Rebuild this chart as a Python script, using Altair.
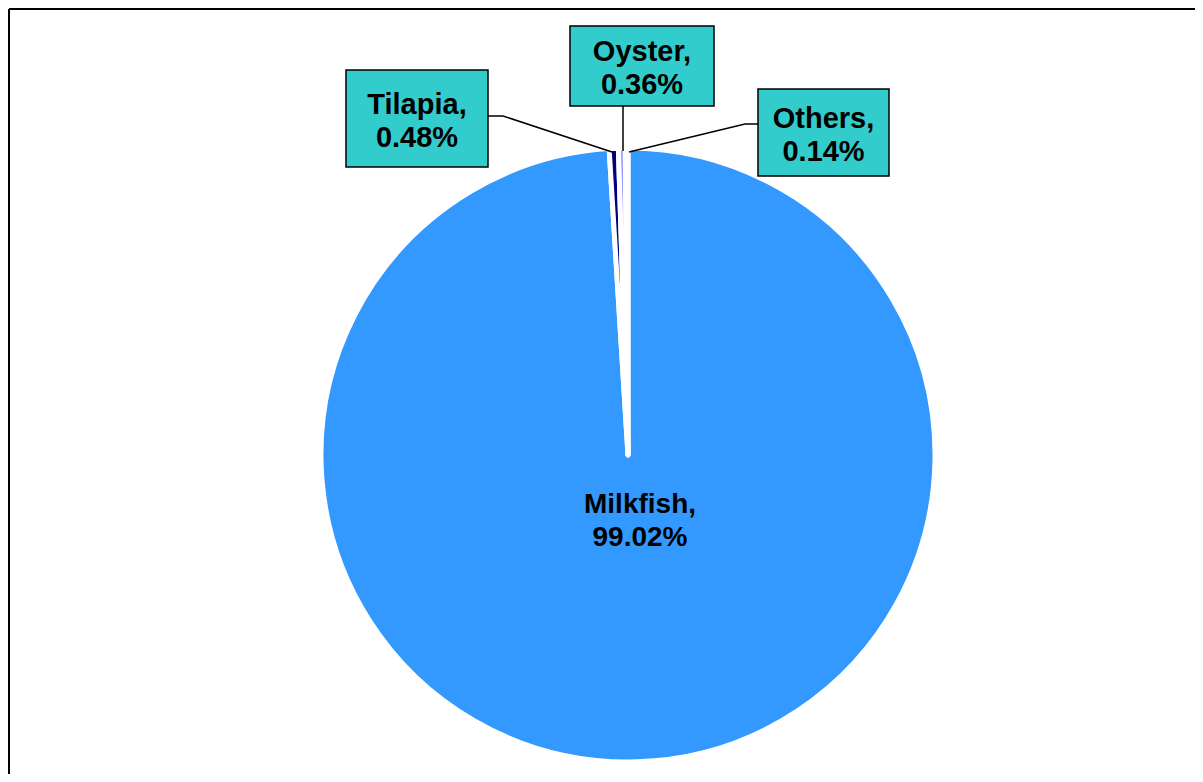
import altair as alt
import pandas as pd

# ---- data ----
species = ["Milkfish", "Tilapia", "Oyster", "Others"]
shares = [99.02, 0.48, 0.36, 0.14]
slice_colors = ["#3399ff", "#000080", "#9999ff", "#ffffff"]

# ---- layout (page pixel coordinates) ----
W, H = 1187, 766
OX, OY = 8, 8
pie_center = (628, 455)
pie_radius = 307

boxes = {  # x1, x2, y1, y2, text x, first baseline
    "Tilapia": (346, 488, 70, 167, 417, 114),
    "Oyster": (570, 714, 26, 106, 642, 61),
    "Others": (758, 889, 89, 176, 823.5, 128),
}
leaders = {
    "Tilapia": [(488, 116), (503, 116), (612, 152)],
    "Oyster": [(623, 106), (623, 151)],
    "Others": [(758, 124), (745, 124), (629, 152)],
}
milk_label = (640, 513)

xs = alt.Scale(domain=[OX, OX + W], nice=False, zero=False)
ys = alt.Scale(domain=[OY + H, OY], nice=False, zero=False)


def fmt(name, v):
    return f"{name},\n{v:.2f}%"


pie_df = pd.DataFrame({
    "species": species,
    "share": shares,
    "idx": list(range(len(species))),
    "cx": [pie_center[0]] * len(species),
    "cy": [pie_center[1]] * len(species),
})

pie = alt.Chart(pie_df).mark_arc(
    radius=pie_radius, stroke="white", strokeWidth=5, strokeJoin="round"
).encode(
    theta=alt.Theta("share:Q", stack=True),
    color=alt.Color("species:N", scale=alt.Scale(domain=species, range=slice_colors), legend=None),
    order=alt.Order("idx:Q"),
    x=alt.X("cx:Q", scale=xs, axis=None),
    y=alt.Y("cy:Q", scale=ys, axis=None),
)

share_of = dict(zip(species, shares))
box_rows = []
for name, (x1, x2, y1, y2, tx, ty) in boxes.items():
    box_rows.append({"name": name, "x1": x1, "x2": x2, "y1": y1, "y2": y2,
                     "tx": tx, "ty": ty, "label": fmt(name, share_of[name])})
box_df = pd.DataFrame(box_rows)

rects = alt.Chart(box_df).mark_rect(fill="#33cccc", stroke="black", strokeWidth=1.5).encode(
    x=alt.X("x1:Q", scale=xs, axis=None), x2="x2:Q",
    y=alt.Y("y1:Q", scale=ys, axis=None), y2="y2:Q",
)

text_style = dict(font="Liberation Sans", fontWeight="bold", fontSize=29, lineBreak="\n",
                  lineHeight=33, align="center", baseline="alphabetic", color="black")

box_text = alt.Chart(box_df).mark_text(**text_style).encode(
    x=alt.X("tx:Q", scale=xs, axis=None),
    y=alt.Y("ty:Q", scale=ys, axis=None),
    text="label:N",
)

milk_df = pd.DataFrame({"tx": [milk_label[0]], "ty": [milk_label[1]],
                        "label": [fmt(species[0], shares[0])]})
milk_text = alt.Chart(milk_df).mark_text(**{**text_style, "fontSize": 28}).encode(
    x=alt.X("tx:Q", scale=xs, axis=None),
    y=alt.Y("ty:Q", scale=ys, axis=None),
    text="label:N",
)

lead_rows = []
for name, pts in leaders.items():
    for i, (px, py) in enumerate(pts):
        lead_rows.append({"name": name, "seq": i, "px": px, "py": py})
lead_df = pd.DataFrame(lead_rows)
lines = alt.Chart(lead_df).mark_line(color="black", strokeWidth=1.5).encode(
    x=alt.X("px:Q", scale=xs, axis=None),
    y=alt.Y("py:Q", scale=ys, axis=None),
    detail="name:N",
    order="seq:Q",
)

frame_df = pd.DataFrame({"fx": [9], "fy": [9], "fx2": [OX + W + 20], "fy2": [OY + H + 20]})
frame_left = alt.Chart(frame_df).mark_rule(color="black", strokeWidth=2).encode(
    x=alt.X("fx:Q", scale=xs, axis=None),
    y=alt.Y("fy:Q", scale=ys, axis=None), y2="fy2:Q",
)
frame_top = alt.Chart(frame_df).mark_rule(color="black", strokeWidth=2).encode(
    x=alt.X("fx:Q", scale=xs, axis=None), x2="fx2:Q",
    y=alt.Y("fy:Q", scale=ys, axis=None),
)

chart = alt.layer(pie, lines, rects, box_text, milk_text, frame_left, frame_top).properties(
    width=W, height=H, padding=0, autosize=alt.AutoSizeParams(type="none"),
).configure_view(stroke=None)

chart.save("out.html", embed_options={"renderer": "svg", "actions": False})
